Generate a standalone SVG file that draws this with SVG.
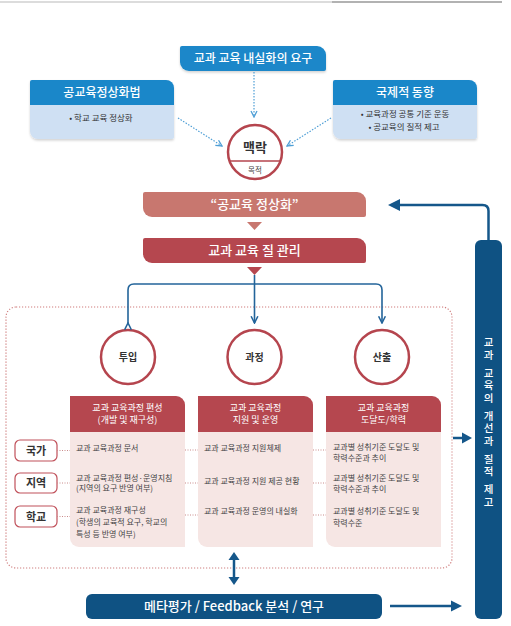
<svg xmlns="http://www.w3.org/2000/svg" width="511" height="626" viewBox="0 0 511 626">
<style>
text{font-family:"Noto Sans CJK KR","Noto Sans",sans-serif;text-anchor:middle}
.w{fill:#fff}
.hd{font-size:12px;font-weight:500}
.bul{font-size:8.5px;fill:#333}
.bar{font-size:13px;font-weight:500;fill:#fff}
.ch{font-size:9px;fill:#fff}
.bd{font-size:8px;fill:#444;text-anchor:start}
.lb{font-size:11px;font-weight:700;fill:#333}
.cc{font-size:10px;font-weight:700;fill:#333}
.circ{fill:#fff;stroke:#b5454e;stroke-width:2.5}
.dot{fill:none;stroke:#4f9fd6;stroke-width:1.2;stroke-dasharray:1.5 1.5}
.rdot{fill:none;stroke:#c98a8a;stroke-width:1;stroke-dasharray:1 1.5}
.blu{fill:none;stroke:#23649a;stroke-width:1.6}
.thk{fill:none;stroke:#15578a;stroke-width:2.5}
.dk{fill:#0f5283}
.pk{fill:#f6e6e4}
.rh{fill:#b5474f}
.lbox{fill:#fff;stroke:#c0505a;stroke-width:1.2}
.vt{font-size:10.5px;font-weight:500;fill:#fff;text-anchor:start;writing-mode:vertical-rl;letter-spacing:2.3px}
</style>
<defs>
<marker id="chb" viewBox="0 0 8 8" refX="7" refY="4" markerWidth="8" markerHeight="8" markerUnits="userSpaceOnUse" orient="auto">
<path d="M1,1 L7,4 L1,7" fill="none" stroke="#4f9fd6" stroke-width="1.3"/>
</marker>
<marker id="chd" viewBox="0 0 8 8" refX="7" refY="4" markerWidth="9" markerHeight="9" markerUnits="userSpaceOnUse" orient="auto">
<path d="M1,1 L7,4 L1,7" fill="none" stroke="#23649a" stroke-width="1.4"/>
</marker>
<filter id="sh" x="-10%" y="-10%" width="120%" height="130%">
<feDropShadow dx="0" dy="1.5" stdDeviation="1.2" flood-color="#000" flood-opacity="0.18"/>
</filter>
</defs>

<line x1="0" y1="2" x2="332" y2="2" stroke="#d0d0d0" stroke-width="1.5"/>
<line x1="332" y1="2" x2="502" y2="2" stroke="#999" stroke-width="1.5"/>

<g id="demand">
<path d="M182,46 H317 A9 9 0 0 1 326,55 V69 A2 2 0 0 1 324,71 H189 A9 9 0 0 1 180,62 V48 A2 2 0 0 1 182,46 Z" fill="#1a87c9" filter="url(#sh)"/>
<text class="hd w" x="253" y="63">교과 교육 내실화의 요구</text>
</g>

<g id="law">
<path d="M32,80 H166 A8 8 0 0 1 174,88 V137 A2 2 0 0 1 172,139 H38 A8 8 0 0 1 30,131 V82 A2 2 0 0 1 32,80 Z" fill="#cfe0f3" filter="url(#sh)"/>
<path d="M32,80 H166 A8 8 0 0 1 174,88 V105 H30 V82 A2 2 0 0 1 32,80 Z" fill="#1a87c9"/>
<text class="hd w" x="102" y="97">공교육정상화법</text>
<text class="bul" x="101" y="121">• 학교 교육 정상화</text>
</g>

<g id="intl">
<path d="M335,80 H469 A8 8 0 0 1 477,88 V137 A2 2 0 0 1 475,139 H341 A8 8 0 0 1 333,131 V82 A2 2 0 0 1 335,80 Z" fill="#cfe0f3" filter="url(#sh)"/>
<path d="M335,80 H469 A8 8 0 0 1 477,88 V105 H333 V82 A2 2 0 0 1 335,80 Z" fill="#1a87c9"/>
<text class="hd w" x="405" y="97">국제적 동향</text>
<text class="bul" x="405" y="117">• 교육과정 공통 기준 운동</text>
<text class="bul" x="404" y="130">• 공교육의 질적 제고</text>
</g>

<g id="context">
<circle class="circ" cx="255" cy="152" r="27"/>
<line x1="230" y1="161" x2="280" y2="161" stroke="#b5454e" stroke-width="1.5"/>
<text x="255" y="152" style="font-size:13px;font-weight:700;fill:#333">맥락</text>
<text x="255" y="173" style="font-size:7.5px;fill:#444">목적</text>
</g>

<g id="normal">
<path d="M145,192 H357 A9 9 0 0 1 366,201 V215 A2 2 0 0 1 364,217 H152 A9 9 0 0 1 143,208 V194 A2 2 0 0 1 145,192 Z" fill="#c8776f"/>
<text class="bar" x="254.5" y="209">“공교육 정상화”</text>
</g>

<g id="quality">
<path d="M145,238 H357 A9 9 0 0 1 366,247 V261 A2 2 0 0 1 364,263 H152 A9 9 0 0 1 143,254 V240 A2 2 0 0 1 145,238 Z" fill="#b5474f"/>
<text class="bar" x="254.5" y="255">교과 교육 질 관리</text>
</g>

<g id="scope">
<rect x="6" y="307" width="446" height="261" rx="10" fill="none" stroke="#cf7d7d" stroke-width="1.2" stroke-dasharray="1.2 1.8"/>
</g>

<g id="input">
<circle class="circ" cx="128" cy="357" r="27"/>
<text class="cc" x="128" y="361">투입</text>
<path class="pk" d="M70,396 H176 A9 9 0 0 1 185,405 V547 H79 A9 9 0 0 1 70,538 Z"/>
<path class="rh" d="M70,396 H176 A9 9 0 0 1 185,405 V432 H70 Z"/>
<text class="ch" x="127.5" y="411">교과 교육과정 편성</text>
<text class="ch" x="127.5" y="423">(개발 및 재구성)</text>
<text class="bd" x="76" y="451">교과 교육과정 문서</text>
<text class="bd" x="76" y="481">교과 교육과정 편성·운영지침</text>
<text class="bd" x="76" y="491">(지역의 요구 반영 여부)</text>
<text class="bd" x="76" y="513">교과 교육과정 재구성</text>
<text class="bd" x="76" y="525">(학생의 교육적 요구, 학교의</text>
<text class="bd" x="76" y="537">특성 등 반영 여부)</text>
</g>

<g id="process">
<circle class="circ" cx="254.5" cy="357" r="27"/>
<text class="cc" x="254.5" y="361">과정</text>
<path class="pk" d="M198,396 H304 A9 9 0 0 1 313,405 V547 H207 A9 9 0 0 1 198,538 Z"/>
<path class="rh" d="M198,396 H304 A9 9 0 0 1 313,405 V432 H198 Z"/>
<text class="ch" x="255.5" y="411">교과 교육과정</text>
<text class="ch" x="255.5" y="423">지원 및 운영</text>
<text class="bd" x="204" y="451">교과 교육과정 지원체제</text>
<text class="bd" x="204" y="484">교과 교육과정 지원 제공 현황</text>
<text class="bd" x="204" y="514">교과 교육과정 운영의 내실화</text>
</g>

<g id="output">
<circle class="circ" cx="382" cy="357" r="27"/>
<text class="cc" x="382" y="361">산출</text>
<path class="pk" d="M326,396 H432 A9 9 0 0 1 441,405 V547 H335 A9 9 0 0 1 326,538 Z"/>
<path class="rh" d="M326,396 H432 A9 9 0 0 1 441,405 V432 H326 Z"/>
<text class="ch" x="383.5" y="411">교과 교육과정</text>
<text class="ch" x="383.5" y="423">도달도/학력</text>
<text class="bd" x="333" y="450">교과별 성취기준 도달도 및</text>
<text class="bd" x="333" y="461">학력수준과 추이</text>
<text class="bd" x="333" y="481">교과별 성취기준 도달도 및</text>
<text class="bd" x="333" y="492">학력수준과 추이</text>
<text class="bd" x="333" y="514">교과별 성취기준 도달도 및</text>
<text class="bd" x="333" y="526">학력수준</text>
</g>

<g id="nation">
<rect class="lbox" x="15" y="440" width="42" height="21" rx="5"/>
<text class="lb" x="36" y="454.5">국가</text>
</g>
<g id="region">
<rect class="lbox" x="15" y="473" width="42" height="20" rx="5"/>
<text class="lb" x="36" y="487">지역</text>
</g>
<g id="school">
<rect class="lbox" x="15" y="506" width="42" height="21" rx="5"/>
<text class="lb" x="36" y="520.5">학교</text>
</g>

<g id="improve">
<rect class="dk" x="475" y="240" width="27" height="379" rx="6"/>
<text class="vt" x="488.5" y="337">교과 교육의 개선과 질적 제고</text>
</g>

<g id="meta">
<rect class="dk" x="86" y="594" width="296" height="25" rx="6"/>
<text class="bar" x="234" y="611">메타평가 / Feedback 분석 / 연구</text>
</g>

<g id="connectors">
<path class="dot" d="M254,72 V117" marker-end="url(#chb)"/>
<path class="dot" d="M178,118 L222,146" marker-end="url(#chb)"/>
<path class="dot" d="M331,118 L287,146" marker-end="url(#chb)"/>
<polygon points="247,222 262,222 254.5,230" fill="#c8776f"/>
<polygon points="247,267 262,267 254.5,275" fill="#b5474f"/>
<path class="blu" d="M254.5,275 V323" marker-end="url(#chd)"/>
<path class="blu" d="M128,323 V290 Q128,284 134,284 H376 Q382,284 382,290 V323" marker-start="url(#chd)" marker-end="url(#chd)"/>
<path class="rdot" d="M57,450.5 H70 M185,450 H198 M313,450 H326 M57,483 H70 M185,483 H198 M313,483 H326 M57,516.5 H70 M185,515 H198 M313,515 H326"/>
<path class="thk" d="M488.5,240 V211 Q488.5,205 482.5,205 H399"/>
<polygon points="388,205 400,199 400,211" fill="#15578a"/>
<path class="thk" d="M453,438 H464"/>
<polygon points="472,438 462,432.5 462,443.5" fill="#15578a"/>
<path class="thk" d="M234,559 V578"/>
<polygon points="234,552 228.5,560 239.5,560" fill="#15578a"/>
<polygon points="234,585 228.5,577 239.5,577" fill="#15578a"/>
<path class="thk" d="M390,606 H452"/>
<polygon points="462,606 451,600.5 451,611.5" fill="#15578a"/>
</g>
</svg>
